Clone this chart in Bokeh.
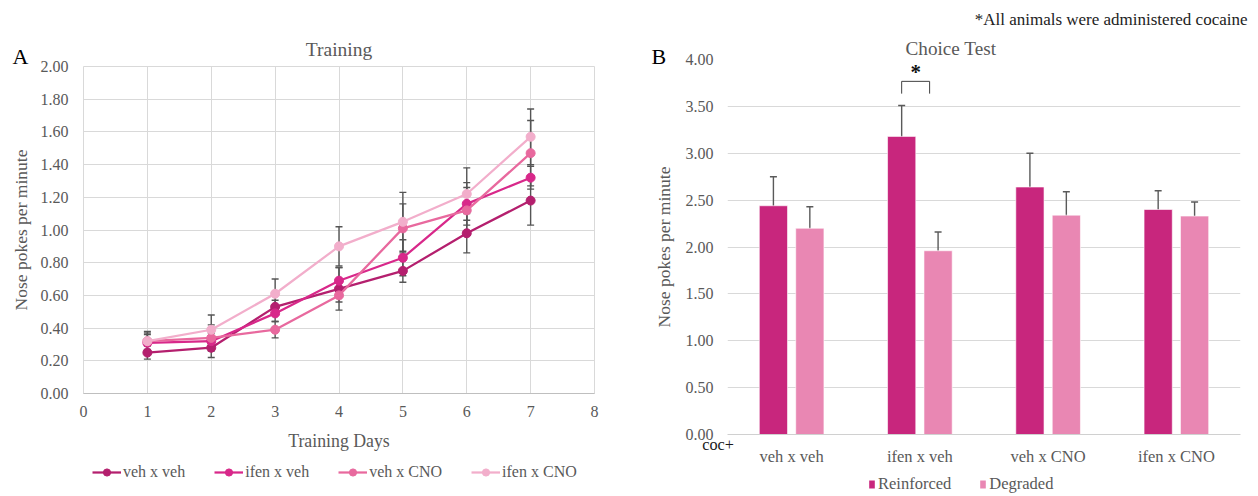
from bokeh.plotting import figure
from bokeh.models import (ColumnDataSource, Whisker, TeeHead, Legend, LegendItem, Label, Title,
                          FactorRange, NumeralTickFormatter, FixedTicker)
from bokeh.layouts import row, column
from bokeh.transform import dodge
from bokeh.embed import file_html
from bokeh.resources import INLINE

FONT = "Liberation Serif"
GREY = "#595959"
NAN = float("nan")

# ---------------- Panel A data ----------------
days = [1, 2, 3, 4, 5, 6, 7]
series_names = ["veh x veh", "ifen x veh", "veh x CNO", "ifen x CNO"]
veh_veh = [0.25, 0.28, 0.53, 0.64, 0.75, 0.98, 1.18]
ifen_veh = [0.31, 0.32, 0.49, 0.69, 0.83, 1.16, 1.32]
veh_cno = [0.32, 0.34, 0.39, 0.60, 1.01, 1.12, 1.47]
ifen_cno = [0.32, 0.39, 0.61, 0.90, 1.05, 1.22, 1.57]
veh_veh_err = [0.04, 0.06, 0.04, 0.13, 0.07, 0.12, 0.15]
ifen_veh_err = [0.05, 0.05, 0.05, 0.08, 0.11, 0.13, 0.07]
veh_cno_err = [0.05, 0.08, 0.05, 0.04, 0.15, 0.14, 0.20]
ifen_cno_err = [0.06, 0.09, 0.09, 0.12, 0.18, 0.16, 0.17]
line_colors = ["#B41F6E", "#D8288A", "#E8699E", "#F2AECB"]
x_ticks = [0, 1, 2, 3, 4, 5, 6, 7, 8]
y_ticks_a = [0.0, 0.2, 0.4, 0.6, 0.8, 1.0, 1.2, 1.4, 1.6, 1.8, 2.0]

# ---------------- Panel B data ----------------
groups = ["veh x veh", "ifen x veh", "veh x CNO", "ifen x CNO"]
bar_series = ["Reinforced", "Degraded"]
reinforced = [2.44, 3.18, 2.64, 2.40]
degraded = [2.20, 1.96, 2.34, 2.33]
reinforced_err = [0.31, 0.33, 0.36, 0.20]
degraded_err = [0.23, 0.20, 0.25, 0.15]
bar_colors = ["#C8267D", "#E987B3"]
y_ticks_b = [0.0, 0.5, 1.0, 1.5, 2.0, 2.5, 3.0, 3.5, 4.0]
sig_group = "ifen x veh"


def style_axes(p, tick_size):
    for ax in (p.xaxis, p.yaxis):
        ax.major_tick_line_color = None
        ax.minor_tick_line_color = None
        ax.major_tick_out = 0
        ax.major_tick_in = 0
        ax.minor_tick_out = 0
        ax.minor_tick_in = 0
        ax.major_label_text_font = FONT
        ax.major_label_text_font_size = tick_size
        ax.major_label_text_color = GREY
        ax.axis_label_text_font = FONT
        ax.axis_label_text_font_style = "normal"
        ax.axis_label_text_color = GREY
    p.yaxis.axis_line_color = None


def legend_figure(w, h):
    f = figure(width=w, height=h, x_axis_type=None, y_axis_type=None, x_range=(0, 1),
               y_range=(0, 1), min_border=0, toolbar_location=None, output_backend="svg")
    f.outline_line_color = None
    return f


# ================= Figure A =================
W1 = 614
p1 = figure(frame_width=511, frame_height=327, x_range=(0, 8), y_range=(0, 2),
            output_backend="svg", toolbar_location=None,
            min_border_left=83, min_border_right=W1 - 83 - 511, min_border_top=66,
            min_border_bottom=64, title="Training")
style_axes(p1, "16px")
p1.title.text_font = FONT
p1.title.text_font_style = "normal"
p1.title.text_color = GREY
p1.title.align = "center"
p1.title.text_font_size = "19.5px"
p1.title.standoff = 13
p1.outline_line_color = "#D9D9D9"
p1.xaxis.ticker = FixedTicker(ticks=x_ticks)
p1.yaxis.ticker = FixedTicker(ticks=y_ticks_a)
p1.yaxis.formatter = NumeralTickFormatter(format="0.00")
p1.xgrid.ticker = FixedTicker(ticks=x_ticks)
p1.ygrid.ticker = FixedTicker(ticks=y_ticks_a)
p1.xgrid.grid_line_color = "#D9D9D9"
p1.ygrid.grid_line_color = "#D9D9D9"
p1.xaxis.axis_line_color = "#BFBFBF"
p1.xaxis.major_label_standoff = 12
p1.yaxis.major_label_standoff = 15
p1.yaxis.axis_label = "Nose pokes per minute"
p1.yaxis.axis_label_text_font_size = "17.5px"
p1.yaxis.axis_label_standoff = 7
p1.xaxis.axis_label = "Training Days"
p1.xaxis.axis_label_text_font_size = "17.8px"
p1.xaxis.axis_label_standoff = 11

lf1 = legend_figure(W1, 496 - 457)
items = []
for name, vals, errs, col in zip(series_names, [veh_veh, ifen_veh, veh_cno, ifen_cno],
                                 [veh_veh_err, ifen_veh_err, veh_cno_err, ifen_cno_err],
                                 line_colors):
    src = ColumnDataSource(dict(x=days, y=vals,
                                upper=[v + e for v, e in zip(vals, errs)],
                                lower=[v - e for v, e in zip(vals, errs)]))
    w = Whisker(source=src, base="x", upper="upper", lower="lower",
                line_color="#555555", line_width=1.4,
                upper_head=TeeHead(size=7, line_color="#555555", line_width=1.4),
                lower_head=TeeHead(size=7, line_color="#555555", line_width=1.4),
                level="underlay")
    p1.add_layout(w)
    p1.line("x", "y", source=src, line_color=col, line_width=2.25)
    p1.scatter("x", "y", source=src, size=9, fill_color=col, line_color=col)
    # legend proxies (same styling, nothing visible) in the legend strip
    lr = lf1.line(x=[NAN], y=[NAN], line_color=col, line_width=2.25)
    sr = lf1.scatter(x=[NAN], y=[NAN], size=9, fill_color=col, line_color=col)
    items.append(LegendItem(label=name, renderers=[lr, sr]))

# legend strip frame is aligned with the chart frame (left edge at x=83)
leg1 = Legend(items=items, orientation="horizontal", location=(9, 15),
              label_text_font=FONT, label_text_font_size="16px", label_text_color=GREY,
              glyph_width=29, glyph_height=18, label_height=18, label_standoff=2, spacing=29,
              padding=0, border_line_color=None, background_fill_alpha=0, margin=0)
lf1.add_layout(leg1)

p1.add_layout(Label(x=-0.986, y=2.062, text="A", text_font=FONT, text_font_size="22px",
                    text_color="black", text_align="center", text_baseline="middle"),
              "right")

# ================= Figure B =================
W2 = 1257 - W1
p2 = figure(frame_width=513, frame_height=375, x_range=FactorRange(factors=groups),
            y_range=(0, 4), output_backend="svg", toolbar_location=None, title=None,
            min_border_left=727 - W1, min_border_right=W2 - (727 - W1) - 513,
            min_border_top=59, min_border_bottom=36)
style_axes(p2, "16px")
p2.add_layout(Title(text="Choice Test", align="left", offset=178, text_font=FONT,
                    text_font_style="normal", text_font_size="19.2px", text_color=GREY,
                    standoff=1), "above")
p2.add_layout(Title(text="*All animals were administered cocaine", align="right", offset=-7,
                    text_font=FONT, text_font_style="normal", text_font_size="17px",
                    text_color="#222222", standoff=13), "above")
p2.outline_line_color = None
p2.xgrid.grid_line_color = None
p2.ygrid.grid_line_color = "#D9D9D9"
p2.yaxis.ticker = FixedTicker(ticks=y_ticks_b)
p2.ygrid.ticker = FixedTicker(ticks=y_ticks_b)
p2.yaxis.formatter = NumeralTickFormatter(format="0.00")
p2.xaxis.axis_line_color = "#D0D0D0"
p2.xaxis.major_label_text_font_size = "16.5px"
p2.xaxis.major_label_standoff = 12
p2.yaxis.major_label_standoff = 14
p2.yaxis.axis_label = "Nose pokes per minute"
p2.yaxis.axis_label_text_font_size = "17.5px"
p2.yaxis.axis_label_standoff = 9

OFF = 0.142
BW = 0.22
src2 = ColumnDataSource(dict(
    cat=groups, reinforced=reinforced, degraded=degraded,
    r_up=[v + e for v, e in zip(reinforced, reinforced_err)],
    r_lo=[v - e for v, e in zip(reinforced, reinforced_err)],
    d_up=[v + e for v, e in zip(degraded, degraded_err)],
    d_lo=[v - e for v, e in zip(degraded, degraded_err)]))

lf2 = legend_figure(W2, 496 - 470)
bar_items = []
for k, (name, field, up, lo, off) in enumerate(zip(bar_series, ["reinforced", "degraded"],
                                                   ["r_up", "d_up"], ["r_lo", "d_lo"],
                                                   [-OFF, OFF])):
    p2.vbar(x=dodge("cat", off, range=p2.x_range), top=field, width=BW, bottom=0,
            source=src2, fill_color=bar_colors[k], line_color="white", line_width=0.6)
    w = Whisker(source=src2, base=dodge("cat", off, range=p2.x_range), upper=up, lower=lo,
                line_color="#5A5A5A", line_width=1.4,
                upper_head=TeeHead(size=7, line_color="#5A5A5A", line_width=1.4),
                lower_head=TeeHead(size=7, line_color="#5A5A5A", line_width=1.4))
    p2.add_layout(w)
    pr = lf2.vbar(x=[NAN], top=[NAN], width=0.1, fill_color=bar_colors[k], line_color=None)
    bar_items.append(LegendItem(label=name, renderers=[pr]))

# legend strip frame is aligned with the bar chart frame (left edge at x=727)
leg2 = Legend(items=bar_items, orientation="horizontal", location=(141, 2),
              label_text_font=FONT, label_text_font_size="16.5px", label_text_color=GREY,
              glyph_width=7, glyph_height=10, label_height=18, label_standoff=3, spacing=28,
              padding=0, border_line_color=None, background_fill_alpha=0, margin=0)
lf2.add_layout(leg2)

# significance bracket over the chosen group (synthetic categorical coordinates)
gi = groups.index(sig_group)
xl = gi + 0.5 - OFF
xr = gi + 0.5 + 0.076
yb, yt = 3.636, 3.767
p2.line(x=[xl, xl, xr, xr], y=[yb, yt, yt, yb], line_color="#404040", line_width=1)
p2.add_layout(Label(x=(xl + xr) / 2, y=3.869, text="*", text_font=FONT, text_font_style="bold",
                    text_font_size="21px", text_color="#111111", text_align="center",
                    text_baseline="alphabetic"))

p2.add_layout(Label(x=-0.536, y=4.032, text="B", text_font=FONT, text_font_size="22px",
                    text_color="black", text_align="center", text_baseline="middle"),
              "right")
p2.add_layout(Label(x=-0.074, y=-0.107, text="coc+", text_font=FONT, text_font_size="16.2px",
                    text_color="#1A1A1A", text_align="center", text_baseline="middle"),
              "left")

layout = row(column(p1, lf1), column(p2, lf2))
open("out.html", "w").write(file_html(layout, INLINE))
